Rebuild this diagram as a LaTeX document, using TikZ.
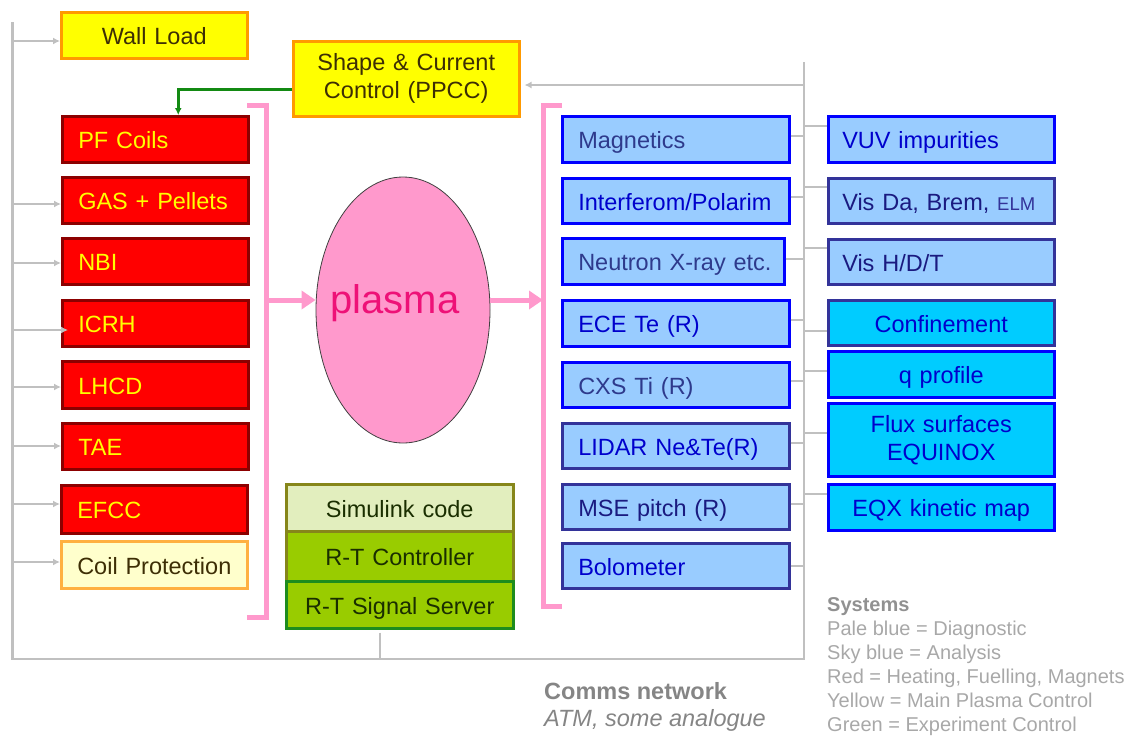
\documentclass[tikz,border=0pt]{standalone}
\usepackage{fontspec}
\setmainfont{Liberation Sans}
\usetikzlibrary{arrows.meta,shapes.geometric}
\definecolor{cRed}{HTML}{FF0000}
\definecolor{cRedB}{HTML}{8C0000}
\definecolor{cYel}{HTML}{FFFF00}
\definecolor{cOrg}{HTML}{FF9900}
\definecolor{cOrgL}{HTML}{FFB040}
\definecolor{cCream}{HTML}{FFFFCC}
\definecolor{cBrown}{HTML}{3D2E05}
\definecolor{cPale}{HTML}{99CCFF}
\definecolor{cSky}{HTML}{00CCFF}
\definecolor{cBlue}{HTML}{0000FF}
\definecolor{cNavyB}{HTML}{333399}
\definecolor{cTxtA}{HTML}{2E3A8C}
\definecolor{cTxtB}{HTML}{0000CC}
\definecolor{cTxtC}{HTML}{1A1A80}
\definecolor{cGrey}{HTML}{C0C0C0}
\definecolor{cPink}{HTML}{FF99CC}
\definecolor{cPlasma}{HTML}{EE1177}
\definecolor{cSim}{HTML}{E2EEBE}
\definecolor{cLime}{HTML}{99CC00}
\definecolor{cOlive}{HTML}{86861A}
\definecolor{cGreenB}{HTML}{1E8C1E}
\definecolor{cGrTxt}{HTML}{1A2E00}
\definecolor{cArrG}{HTML}{138A13}
\definecolor{cComms}{HTML}{858585}
\definecolor{cLeg}{HTML}{A8A8A8}
\newcommand\mainfs{\fontsize{23.5}{28}\selectfont}
\begin{document}
\begin{tikzpicture}[x=1pt,y=-1pt,
  box/.style={draw, line width=2.5pt, anchor=north west, inner ysep=0pt, font=\mainfs},
  one/.style={text height=23pt, text depth=4pt},
  leftbox/.style={box, one, minimum width=186pt, text width=154pt, inner xsep=16pt, align=left, minimum height=46pt},
  redbox/.style={leftbox, fill=cRed, draw=cRedB, text=cYel},
  midbox/.style={box, one, minimum width=227pt, text width=195pt, inner xsep=16pt, align=left, minimum height=46pt, fill=cPale},
  rbox/.style={box, minimum width=226pt, text width=198pt, inner xsep=14pt, minimum height=46pt},
  palebox/.style={rbox, one, align=left, fill=cPale},
  skybox/.style={rbox, align=center, fill=cSky, text=cTxtB},
  grbox/.style={box, one, minimum width=227pt, text width=195pt, inner xsep=16pt, align=center, text=cGrTxt},
  bus/.style={draw=cGrey, line width=2.8pt},
  greyarr/.style={draw=cGrey, line width=2.8pt, -{Latex[length=7pt,width=7pt]}},
  pinkline/.style={draw=cPink, line width=5pt},
  pinkarr/.style={draw=cPink, line width=5pt, -{Triangle[width=18pt,length=14pt]}}
]
\useasboundingbox (0,0) rectangle (1133,737);

% comms bus
\coordinate (bTL) at (12.7,22);
\coordinate (bBL) at (12.7,659);
\coordinate (bBR) at (804,659);
\coordinate (bTR) at (804,62);
\draw[bus] (bTL) -- (bBL) -- (bBR) -- (bTR);

% left column
\node[box, fill=cYel, draw=cOrg, text=cBrown, one, minimum width=186pt, text width=154pt, inner xsep=16pt, align=center, minimum height=46pt] (wall) at (60,11) {Wall Load};
\node[redbox] (pf) at (61,115) {PF Coils};
\node[redbox] (gas) at (61,176) {\mbox{GAS + Pellets}};
\node[redbox] (nbi) at (61,237) {NBI};
\node[redbox] (icrh) at (61,299) {ICRH};
\node[redbox, minimum height=47pt] (lhcd) at (61,360) {LHCD};
\node[redbox] (tae) at (61,422) {TAE};
\node[redbox, minimum height=48pt] (efcc) at (60,484) {EFCC};
\node[leftbox, fill=cCream, draw=cOrgL, text=cBrown, minimum height=47pt] (coil) at (60,540) {\mbox{Coil Protection}};

% shape & current
\node[box, fill=cYel, draw=cOrg, text=cBrown, minimum width=226pt, text width=194pt, inner xsep=16pt, align=center, minimum height=75pt] (shape) at (292,40) {Shape \& Current\\Control (PPCC)};

% arrows from bus to left boxes
\foreach \n/\y in {wall/41, gas/204, nbi/263, lhcd/387, tae/446, efcc/504, coil/562}{
  \coordinate (a\n) at (12.7,\y);
  \draw[greyarr] (a\n) -- (a\n -| \n.west);
}
\coordinate (aicrh) at (12.7,330);
\draw[greyarr, shorten >=-7pt] (aicrh) -- (aicrh -| icrh.west);

% green arrow
\draw[draw=cArrG, line width=2.5pt, -{Latex[length=7pt,width=7pt]}] ([yshift=-10.5pt]shape.west) -| ([xshift=23pt]pf.north);

% arrow from bus to shape
\coordinate (sA) at (804,85);
\draw[greyarr, shorten >=4pt] (sA) -- (sA -| shape.east);

% plasma
\node[ellipse, minimum width=174pt, minimum height=266pt, fill=cPink, draw=black!75, line width=0.8pt, inner sep=0pt] (plasma) at (403,310) {};
\node[anchor=base, text=cPlasma, font=\fontsize{40}{44}\selectfont, inner sep=0pt] (plasmatxt) at (395,313) {plasma};

% brackets
\draw[pinkline] (247,105) -- (266,105) -- (266,617) -- (247,617);
\draw[pinkline] (562,105) -- (543,105) -- (543,606) -- (562,606);
\coordinate (la) at (266,300);
\coordinate (ra) at (543,300);
\draw[pinkarr] (la) -- (la -| plasma.west);
\draw[pinkarr] (ra -| plasma.east) -- (ra);

% diagnostics column
\node[midbox, draw=cBlue, text=cTxtA] (mag) at (561,115) {Magnetics};
\node[midbox, draw=cBlue, text=cTxtB, minimum height=45pt] (int) at (561,177) {\mbox{Interferom/Polarim}};
\node[midbox, draw=cBlue, text=cTxtA, minimum width=222pt, text width=190pt] (neu) at (561,237) {\mbox{Neutron X-ray etc.}};
\node[midbox, draw=cBlue, text=cTxtB] (ece) at (561,299) {ECE Te (R)};
\node[midbox, draw=cBlue, text=cTxtA, minimum height=45pt] (cxs) at (561,361) {CXS Ti (R)};
\node[midbox, draw=cNavyB, text=cTxtB, minimum height=45pt] (lid) at (561,422) {\mbox{LIDAR Ne\&Te(R)}};
\node[midbox, draw=cNavyB, text=cTxtC, minimum height=45pt] (mse) at (561,483) {MSE pitch (R)};
\node[midbox, draw=cNavyB, text=cTxtB, minimum height=45pt] (bol) at (561,542) {Bolometer};

% analysis column
\node[palebox, draw=cBlue, text=cTxtB] (vuv) at (827,115) {VUV impurities};
\node[palebox, draw=cNavyB, text=cTxtC, minimum height=45pt] (vis) at (827,177) {\mbox{Vis Da, Brem, {\fontsize{18.5}{20}\selectfont\color{cNavyB}ELM}}};
\node[palebox, draw=cNavyB, text=cTxtC, minimum height=45pt] (hdt) at (827,238) {Vis H/D/T};
\node[skybox, one, draw=cNavyB, minimum height=45pt] (conf) at (827,299) {Confinement};
\node[skybox, one, draw=cBlue] (qprof) at (827,350) {q profile};
\node[skybox, draw=cBlue, minimum height=73pt] (flux) at (827,402) {Flux surfaces\\EQUINOX};
\node[skybox, one, draw=cBlue] (eqx) at (827,483) {EQX kinetic map};

% stubs
\foreach \n/\y in {mag/136, int/197, neu/259, ece/320, cxs/381, lid/443, mse/504, bol/566}{
  \coordinate (s\n) at (804,\y);
  \draw[bus] (s\n -| \n.east) -- (s\n);
}
\foreach \n/\y in {vuv/126, vis/187, hdt/248, conf/331, qprof/371, flux/433, eqx/494}{
  \coordinate (t\n) at (804,\y);
  \draw[bus] (t\n) -- (t\n -| \n.west);
}

% green stack
\node[grbox, fill=cSim, draw=cOlive, minimum height=47pt] (sim) at (285,483) {Simulink code};
\node[grbox, fill=cLime, draw=cOlive, minimum height=50pt] (rtc) at (285,530) {R-T Controller};
\node[grbox, fill=cLime, draw=cGreenB, minimum height=47pt] (rss) at (285,580) {R-T Signal Server};
\coordinate (sR) at (380,659);
\draw[bus] ([yshift=-3pt]sR |- rss.south) -- (sR);

% comms labels
\node[anchor=base west, inner sep=0pt, text=cComms, font=\bfseries\mainfs] (comms) at (544,699) {Comms network};
\node[anchor=base west, inner sep=0pt, text=cComms, font=\itshape\mainfs] (atm) at (544,726) {ATM, some analogue};

% legend
\node[anchor=base west, inner sep=0pt, text=cComms!90, font=\bfseries\fontsize{20}{24}\selectfont] (sys) at (827,611) {Systems};
\foreach \i/\t in {1/{Pale blue = Diagnostic}, 2/{Sky blue = Analysis}, 3/{Red = Heating, Fuelling, Magnets}, 4/{Yellow = Main Plasma Control}, 5/{Green = Experiment Control}}{
  \node[anchor=base west, inner sep=0pt, text=cLeg, font=\fontsize{20}{24}\selectfont] (leg\i) at (827,611+24*\i) {\t};
}
\end{tikzpicture}
\end{document}
